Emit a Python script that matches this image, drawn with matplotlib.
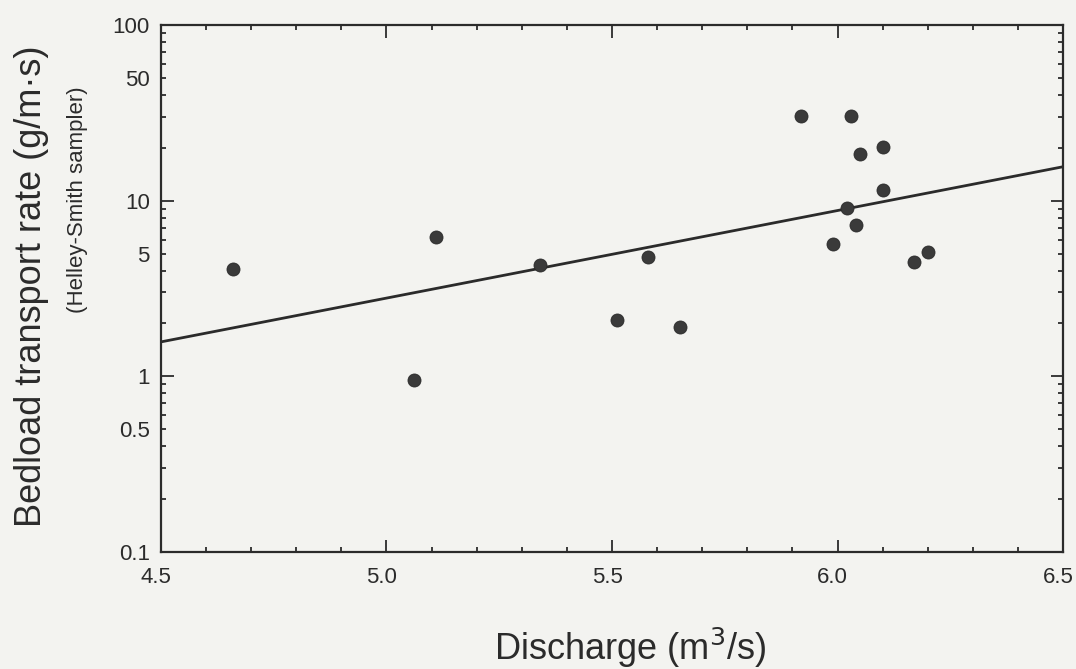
import numpy as np
import matplotlib.pyplot as plt
import matplotlib.transforms as mtransforms
from matplotlib.ticker import FixedLocator, FuncFormatter, NullFormatter

# Observed samples: discharge (m3/s) vs bedload transport rate (g/m.s)
discharge = [4.66, 5.06, 5.11, 5.34, 5.51, 5.58, 5.65, 5.92, 5.99, 6.02,
             6.03, 6.04, 6.05, 6.10, 6.10, 6.17, 6.20]
bedload = [4.1, 0.95, 6.2, 4.3, 2.1, 4.8, 1.9, 30.5, 5.65, 9.1,
           30.3, 7.3, 18.4, 20.2, 11.5, 4.5, 5.1]

# Fitted line end points
fit_x = [4.5, 6.5]
fit_y = [1.57, 15.6]

y_labels = [0.1, 0.5, 1, 5, 10, 50, 100]
x_ticks = [4.5, 5.0, 5.5, 6.0, 6.5]

plt.rcParams['font.family'] = ['Liberation Sans', 'DejaVu Sans']
bg = '#f3f3f0'
ink = '#2b2b2b'

fig = plt.figure(figsize=(10.76, 6.69), dpi=100, facecolor=bg)
ax = fig.add_axes([0.1496, 0.175, 0.8384, 0.7876], facecolor=bg)

ax.plot(fit_x, fit_y, color=ink, linewidth=2.0, zorder=2)
ax.scatter(discharge, bedload, s=88, color='#3a3a3a', edgecolors='#2a2a2a',
           linewidths=0.6, zorder=3)

ax.set_yscale('log')
ax.set_xlim(4.5, 6.5)
ax.set_ylim(0.1, 100)

# y ticks: decades major, other integers minor, 5s labelled
ax.yaxis.set_major_locator(FixedLocator([0.1, 1, 10, 100]))
minor_y = [m * d for d in (0.1, 1, 10) for m in range(2, 10)]
ax.yaxis.set_minor_locator(FixedLocator(minor_y))


def ylab(v, pos):
    for lab in y_labels:
        if abs(v - lab) / lab < 1e-6:
            return f'{lab:g}'
    return ''


ax.yaxis.set_major_formatter(FuncFormatter(ylab))
ax.yaxis.set_minor_formatter(FuncFormatter(ylab))

ax.set_xticks(x_ticks)
ax.set_xticklabels([f'{v:.1f}' for v in x_ticks])
ax.xaxis.set_minor_locator(FixedLocator(np.arange(4.6, 6.45, 0.1)))
ax.xaxis.set_minor_formatter(NullFormatter())

ax.tick_params(which='both', direction='in', top=True, right=True,
               color=ink, width=1.3, labelsize=16, labelcolor=ink)
ax.tick_params(which='major', length=9)
ax.tick_params(which='minor', length=3.5)
ax.tick_params(axis='x', which='major', pad=11)
ax.tick_params(axis='y', which='both', pad=8)

# x tick labels sit a little left of their ticks in the original
shift = mtransforms.ScaledTranslation(-5 / 100, 0, fig.dpi_scale_trans)
for lab in ax.get_xticklabels():
    lab.set_transform(lab.get_transform() + shift)

for s in ax.spines.values():
    s.set_linewidth(1.6)
    s.set_color(ink)

fig.text(0.029, 0.572, 'Bedload transport rate (g/m\u00b7s)', rotation=90,
         ha='center', va='center', fontsize=26, color=ink)
fig.text(0.072, 0.701, '(Helley-Smith sampler)', rotation=90,
         ha='center', va='center', fontsize=16, color=ink)
fig.text(0.586, 0.0135, 'Discharge (m$^3$/s)', ha='center', va='baseline',
         fontsize=26, color=ink)

fig.savefig('out.png', dpi=100, facecolor=bg)
